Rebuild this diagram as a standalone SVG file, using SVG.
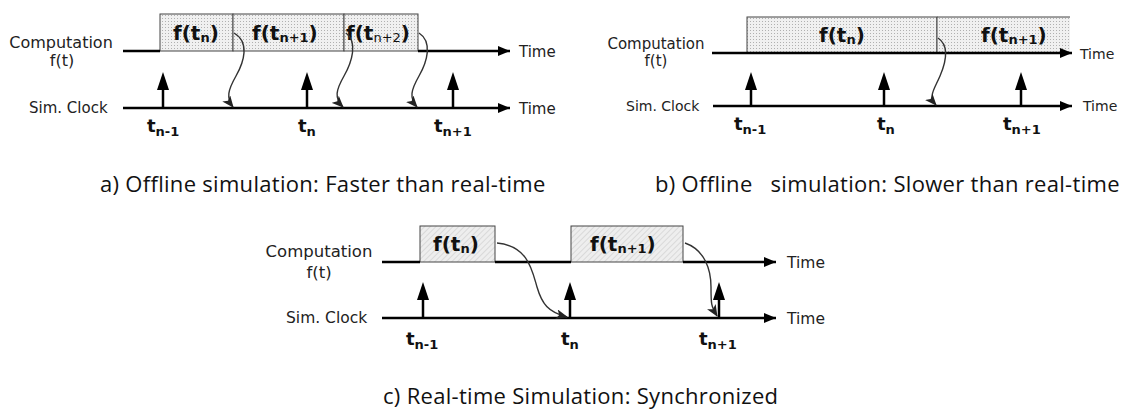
<svg xmlns="http://www.w3.org/2000/svg" width="1145" height="410" viewBox="0 0 1145 410">
  <style>
    .lbl { font-family: "DejaVu Sans", Verdana, sans-serif; fill: #222; }
    .tl { font-family: "DejaVu Sans", Verdana, sans-serif; font-weight: bold; font-size: 18px; fill: #111; }
    .sub { font-size: 13px; }
    .fl { font-family: "DejaVu Sans", Verdana, sans-serif; font-weight: bold; font-size: 20px; fill: #111; }
    .fsub { font-size: 13px; }
    .axis { stroke: #000; stroke-width: 2.5; fill: none; }
    .tick { stroke: #000; stroke-width: 2.5; }
    .head { fill: #000; }
    .box { stroke: #444; stroke-width: 1; }
    .curve { stroke: #333; stroke-width: 1.4; fill: none; }
    .cap { font-family: "Open Sans", "Lato", sans-serif; font-size: 22px; letter-spacing: 0.3px; fill: #111; white-space: pre; }
  </style>
  <defs>
    <pattern id="dots" width="3" height="3" patternUnits="userSpaceOnUse">
      <rect width="3" height="3" fill="#f0f0f0"/>
      <rect x="0" y="0" width="1" height="1" fill="#b0b0b0"/>
    </pattern>
    <pattern id="hatch" width="4" height="4" patternUnits="userSpaceOnUse" patternTransform="rotate(45)">
      <rect width="4" height="4" fill="#eeeeee"/>
      <line x1="0" y1="0" x2="0" y2="4" stroke="#c4c4c4" stroke-width="1"/>
    </pattern>
    <marker id="tip" viewBox="0 0 12 10" refX="12" refY="5" markerWidth="12" markerHeight="10" markerUnits="userSpaceOnUse" orient="auto">
      <path d="M0,0 L12,5 L0,10 Z" fill="#000"/>
    </marker>
    <marker id="ctip" viewBox="0 0 12 10" refX="11" refY="5" markerWidth="12" markerHeight="10" markerUnits="userSpaceOnUse" orient="auto">
      <path d="M0,0 L12,5 L0,10 L3,5 Z" fill="#222"/>
    </marker>
  </defs>

  <!-- (a) faster than real time -->
  <g id="a-labels">
    <text class="lbl" x="61" y="48" font-size="16" text-anchor="middle">Computation</text>
    <text class="lbl" x="62" y="66" font-size="16" text-anchor="middle">f(t)</text>
    <text class="lbl" x="29" y="113" font-size="15">Sim. Clock</text>
    <text class="lbl" x="519" y="57" font-size="15">Time</text>
    <text class="lbl" x="519" y="114" font-size="15">Time</text>
  </g>
  <g id="a-box-tn">
    <rect class="box" x="160" y="14" width="73" height="37" fill="url(#dots)"/>
    <text class="fl" x="173" y="40">f(t<tspan class="fsub" dy="2">n</tspan><tspan dy="-2">)</tspan></text>
  </g>
  <g id="a-box-tn1">
    <rect class="box" x="233" y="14" width="111" height="37" fill="url(#dots)"/>
    <text class="fl" x="252" y="40">f(t<tspan class="fsub" dy="2">n+1</tspan><tspan dy="-2">)</tspan></text>
  </g>
  <g id="a-box-tn2">
    <rect class="box" x="344" y="14" width="74" height="37" fill="url(#dots)"/>
    <text class="fl" x="346" y="40">f(t<tspan class="fsub" font-weight="normal" dy="2">n+2</tspan><tspan dy="-2">)</tspan></text>
  </g>
  <g id="a-ticks">
    <line class="tick" x1="163" y1="108" x2="163" y2="86"/>
    <path class="head" d="M157,90 L163,72 L169,90 Z"/>
    <line class="tick" x1="307" y1="108" x2="307" y2="86"/>
    <path class="head" d="M301,90 L307,72 L313,90 Z"/>
    <line class="tick" x1="453" y1="108" x2="453" y2="86"/>
    <path class="head" d="M447,90 L453,72 L459,90 Z"/>
    <text class="tl" x="147" y="132">t<tspan class="sub" dy="4">n-1</tspan></text>
    <text class="tl" x="298" y="132">t<tspan class="sub" dy="4">n</tspan></text>
    <text class="tl" x="434" y="132">t<tspan class="sub" dy="4">n+1</tspan></text>
  </g>
  <g id="a-connectors">
    <path class="axis" d="M123,51 H160 M418,51 H510" marker-end="url(#tip)"/>
    <path class="axis" d="M123,108 H510" marker-end="url(#tip)"/>
    <path class="curve" d="M234,33 C250,42 244,62 236,76 S226,98 233,107" marker-end="url(#ctip)"/>
    <path class="curve" d="M346,33 C358,42 352,62 344,76 S334,98 343,107" marker-end="url(#ctip)"/>
    <path class="curve" d="M419,33 C433,42 427,62 419,76 S409,98 417,107" marker-end="url(#ctip)"/>
  </g>
  <text class="cap" x="100" y="192">a) Offline simulation: Faster than real-time</text>

  <!-- (b) slower than real time -->
  <g id="b-labels">
    <text class="lbl" x="656" y="49" font-size="15" text-anchor="middle">Computation</text>
    <text class="lbl" x="656" y="66" font-size="15" text-anchor="middle">f(t)</text>
    <text class="lbl" x="626" y="111" font-size="14">Sim. Clock</text>
    <text class="lbl" x="1080" y="59" font-size="14">Time</text>
    <text class="lbl" x="1083" y="111" font-size="14">Time</text>
  </g>
  <g id="b-box-tn">
    <rect class="box" x="747" y="17" width="190" height="36" fill="url(#dots)"/>
    <text class="fl" x="819" y="42">f(t<tspan class="fsub" dy="2">n</tspan><tspan dy="-2">)</tspan></text>
  </g>
  <g id="b-box-tn1">
    <rect x="937" y="17" width="133" height="36" fill="url(#dots)"/>
    <path class="box" d="M937,53 V17 H1070" fill="none"/>
    <text class="fl" x="981" y="42">f(t<tspan class="fsub" dy="2">n+1</tspan><tspan dy="-2">)</tspan></text>
  </g>
  <g id="b-ticks">
    <line class="tick" x1="751" y1="106" x2="751" y2="86"/>
    <path class="head" d="M745,90 L751,72 L757,90 Z"/>
    <line class="tick" x1="884" y1="106" x2="884" y2="86"/>
    <path class="head" d="M878,90 L884,72 L890,90 Z"/>
    <line class="tick" x1="1021" y1="106" x2="1021" y2="86"/>
    <path class="head" d="M1015,90 L1021,72 L1027,90 Z"/>
    <text class="tl" x="734" y="130">t<tspan class="sub" dy="4">n-1</tspan></text>
    <text class="tl" x="877" y="130">t<tspan class="sub" dy="4">n</tspan></text>
    <text class="tl" x="1003" y="130">t<tspan class="sub" dy="4">n+1</tspan></text>
  </g>
  <g id="b-connectors">
    <path class="axis" d="M712,53 H1072" marker-end="url(#tip)"/>
    <path class="axis" d="M713,106 H1072" marker-end="url(#tip)"/>
    <path class="curve" d="M938,38 C950,46 946,62 940,76 S928,96 936,105" marker-end="url(#ctip)"/>
  </g>
  <text class="cap" x="655" y="192">b) Offline   simulation: Slower than real-time</text>

  <!-- (c) real time, synchronized -->
  <g id="c-labels">
    <text class="lbl" x="319" y="257" font-size="16.5" text-anchor="middle">Computation</text>
    <text class="lbl" x="319" y="278" font-size="16.5" text-anchor="middle">f(t)</text>
    <text class="lbl" x="286" y="323" font-size="15.5">Sim. Clock</text>
    <text class="lbl" x="787" y="268" font-size="15.5">Time</text>
    <text class="lbl" x="787" y="324" font-size="15.5">Time</text>
  </g>
  <g id="c-box-tn">
    <rect class="box" x="420" y="226" width="75" height="36" fill="url(#hatch)"/>
    <text class="fl" x="433" y="251">f(t<tspan class="fsub" dy="2">n</tspan><tspan dy="-2">)</tspan></text>
  </g>
  <g id="c-box-tn1">
    <rect class="box" x="571" y="226" width="112" height="36" fill="url(#hatch)"/>
    <text class="fl" x="590" y="251">f(t<tspan class="fsub" dy="2">n+1</tspan><tspan dy="-2">)</tspan></text>
  </g>
  <g id="c-ticks">
    <line class="tick" x1="423" y1="318" x2="423" y2="296"/>
    <path class="head" d="M417,300 L423,282 L429,300 Z"/>
    <line class="tick" x1="570" y1="318" x2="570" y2="296"/>
    <path class="head" d="M564,300 L570,282 L576,300 Z"/>
    <line class="tick" x1="719" y1="318" x2="719" y2="296"/>
    <path class="head" d="M713,300 L719,282 L725,300 Z"/>
    <text class="tl" x="406" y="345">t<tspan class="sub" dy="4">n-1</tspan></text>
    <text class="tl" x="561" y="345">t<tspan class="sub" dy="4">n</tspan></text>
    <text class="tl" x="699" y="345">t<tspan class="sub" dy="4">n+1</tspan></text>
  </g>
  <g id="c-connectors">
    <path class="axis" d="M382,262 H420 M495,262 H571 M683,262 H776" marker-end="url(#tip)"/>
    <path class="axis" d="M382,318 H776" marker-end="url(#tip)"/>
    <path class="curve" d="M497,243 C528,246 532,270 537,287 S548,312 567,317" marker-end="url(#ctip)"/>
    <path class="curve" d="M685,243 C705,250 711,270 711,287 S711,306 717,316" marker-end="url(#ctip)"/>
  </g>
  <text class="cap" x="383" y="404">c) Real-time Simulation: Synchronized</text>
</svg>
